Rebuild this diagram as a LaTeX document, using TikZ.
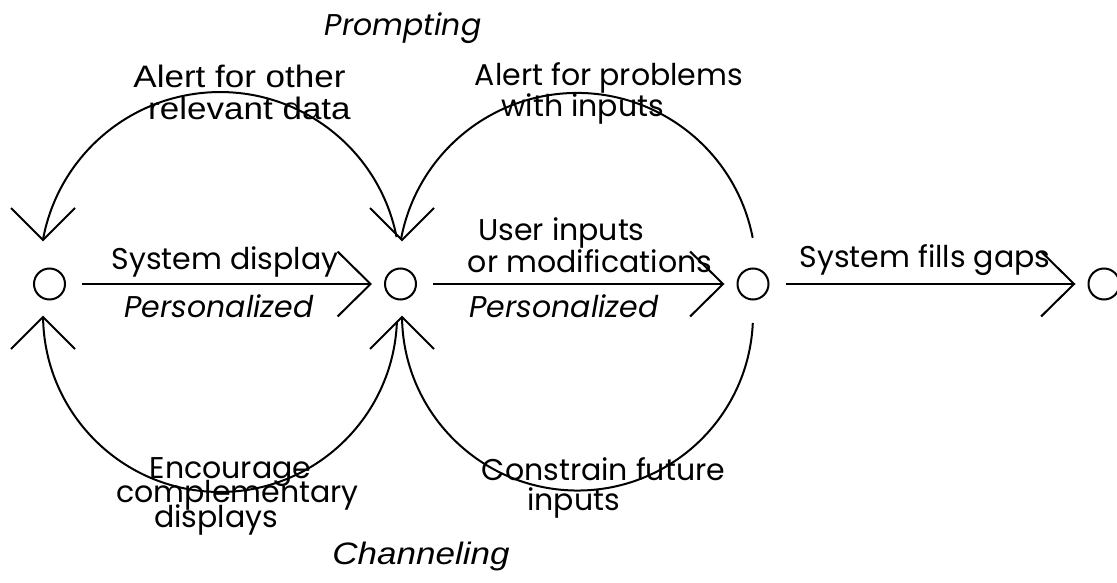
\documentclass[tikz,border=0pt]{standalone}
\usepackage{fontspec}
\setmainfont{Poppins}
\newfontfamily\arialfont[FakeStretch=1.13]{Liberation Sans}
\usetikzlibrary{arrows.meta,calc}
\newcommand\tightlines{\lineskiplimit=-100pt\relax}
\begin{document}
\begin{tikzpicture}[x=1pt,y=-1pt,line width=2pt,
  dot/.style={circle,draw,minimum size=31pt,inner sep=0pt},
  flow/.style={-{Straight Barb[length=33pt,width=65pt]}},
  lbl/.style={font=\fontsize{30}{30}\selectfont,anchor=base,align=center,inner sep=0pt},
  albl/.style={font=\arialfont\fontsize{31}{32}\selectfont,anchor=base,align=center,inner sep=0pt}]
\useasboundingbox (0,0) rectangle (1117,583);
\clip (0,0) rectangle (1117,583);

% states
\node[dot] (c1) at (49.5,284) {};
\node[dot] (c2) at (400.5,284) {};
\node[dot] (c3) at (753,284) {};
\node[dot] (c4) at (1104,284) {};

% straight transitions
\draw[flow] ([xshift=16pt]c1.east) -- ([xshift=-12pt]c2.west);
\draw[flow] ([xshift=16pt]c2.east) -- ([xshift=-12pt]c3.west);
\draw[flow] ([xshift=16pt]c3.east) -- ([xshift=-12pt]c4.west);

% loop end points
\coordinate (ht1) at ($(c1)+(-6.5,-44)$);
\coordinate (ht2) at ($(c2)+(1.5,-44)$);
\coordinate (hb1) at ($(c1)+(-6.5,33)$);
\coordinate (hb2) at ($(c2)+(1.5,33)$);
\coordinate (stl) at ($(c2)+(-3.9,-46.9)$);
\coordinate (str) at ($(c3)+(-0.3,-46.2)$);
\coordinate (sbl) at ($(c2)+(-3.6,38.1)$);
\coordinate (sbr) at ($(c3)+(-0.2,39)$);

% prompting loops (above)
\draw (stl) arc[start angle=348.8,end angle=190.2,radius=180];
\draw (str) arc[start angle=349,end angle=190.4,radius=179];
% channeling loops (below)
\draw (sbl) arc[start angle=2.3,end angle=179.35,radius=177];
\draw (sbr) arc[start angle=2.6,end angle=179.35,radius=175.5];

% open heads of the loops
\draw ($(ht1)+(-32,-32)$) -- (ht1) -- ++(32,-32);
\draw ($(ht2)+(-32,-32)$) -- (ht2) -- ++(32,-32);
\draw ($(hb1)+(-32,32)$) -- (hb1) -- ++(32,32);
\draw ($(hb2)+(-32,32)$) -- (hb2) -- ++(32,32);

% labels (multi-line labels sit on the baseline of their last line)
\node[lbl,font=\fontsize{30}{30}\selectfont\itshape] (prompt) at (403,36) {Prompting};
\node[albl] (alerto) at (249.5,120) {Alert for other\hspace*{20pt}\\relevant data};
\node[lbl] (alertp) at (609,117) {Alert for problems\\with inputs\hspace*{53pt}};
\node[lbl] (sysd) at (225,269) {System display};
\node[lbl,font=\fontsize{30}{30}\selectfont\itshape] (pers1) at (219,317) {Personalized};
\node[lbl] (user) at (590,272) {User inputs\hspace*{57pt}\\or modifications};
\node[lbl,font=\fontsize{30}{30}\selectfont\itshape] (pers2) at (564,317) {Personalized};
\node[lbl] (fills) at (925,267) {System fills gaps};
\node[lbl,font={\fontsize{30}{24.5}\selectfont\tightlines}] (enc) at (237.5,527) {Encourage\hspace*{14pt}\\complementary\\displays\hspace*{43pt}};
\node[lbl] (constr) at (603.5,510) {Constrain future\\inputs\hspace*{60pt}};
\node[albl,font=\arialfont\fontsize{31}{32}\selectfont\itshape] (chan) at (421,564) {Channeling};
\end{tikzpicture}
\end{document}
